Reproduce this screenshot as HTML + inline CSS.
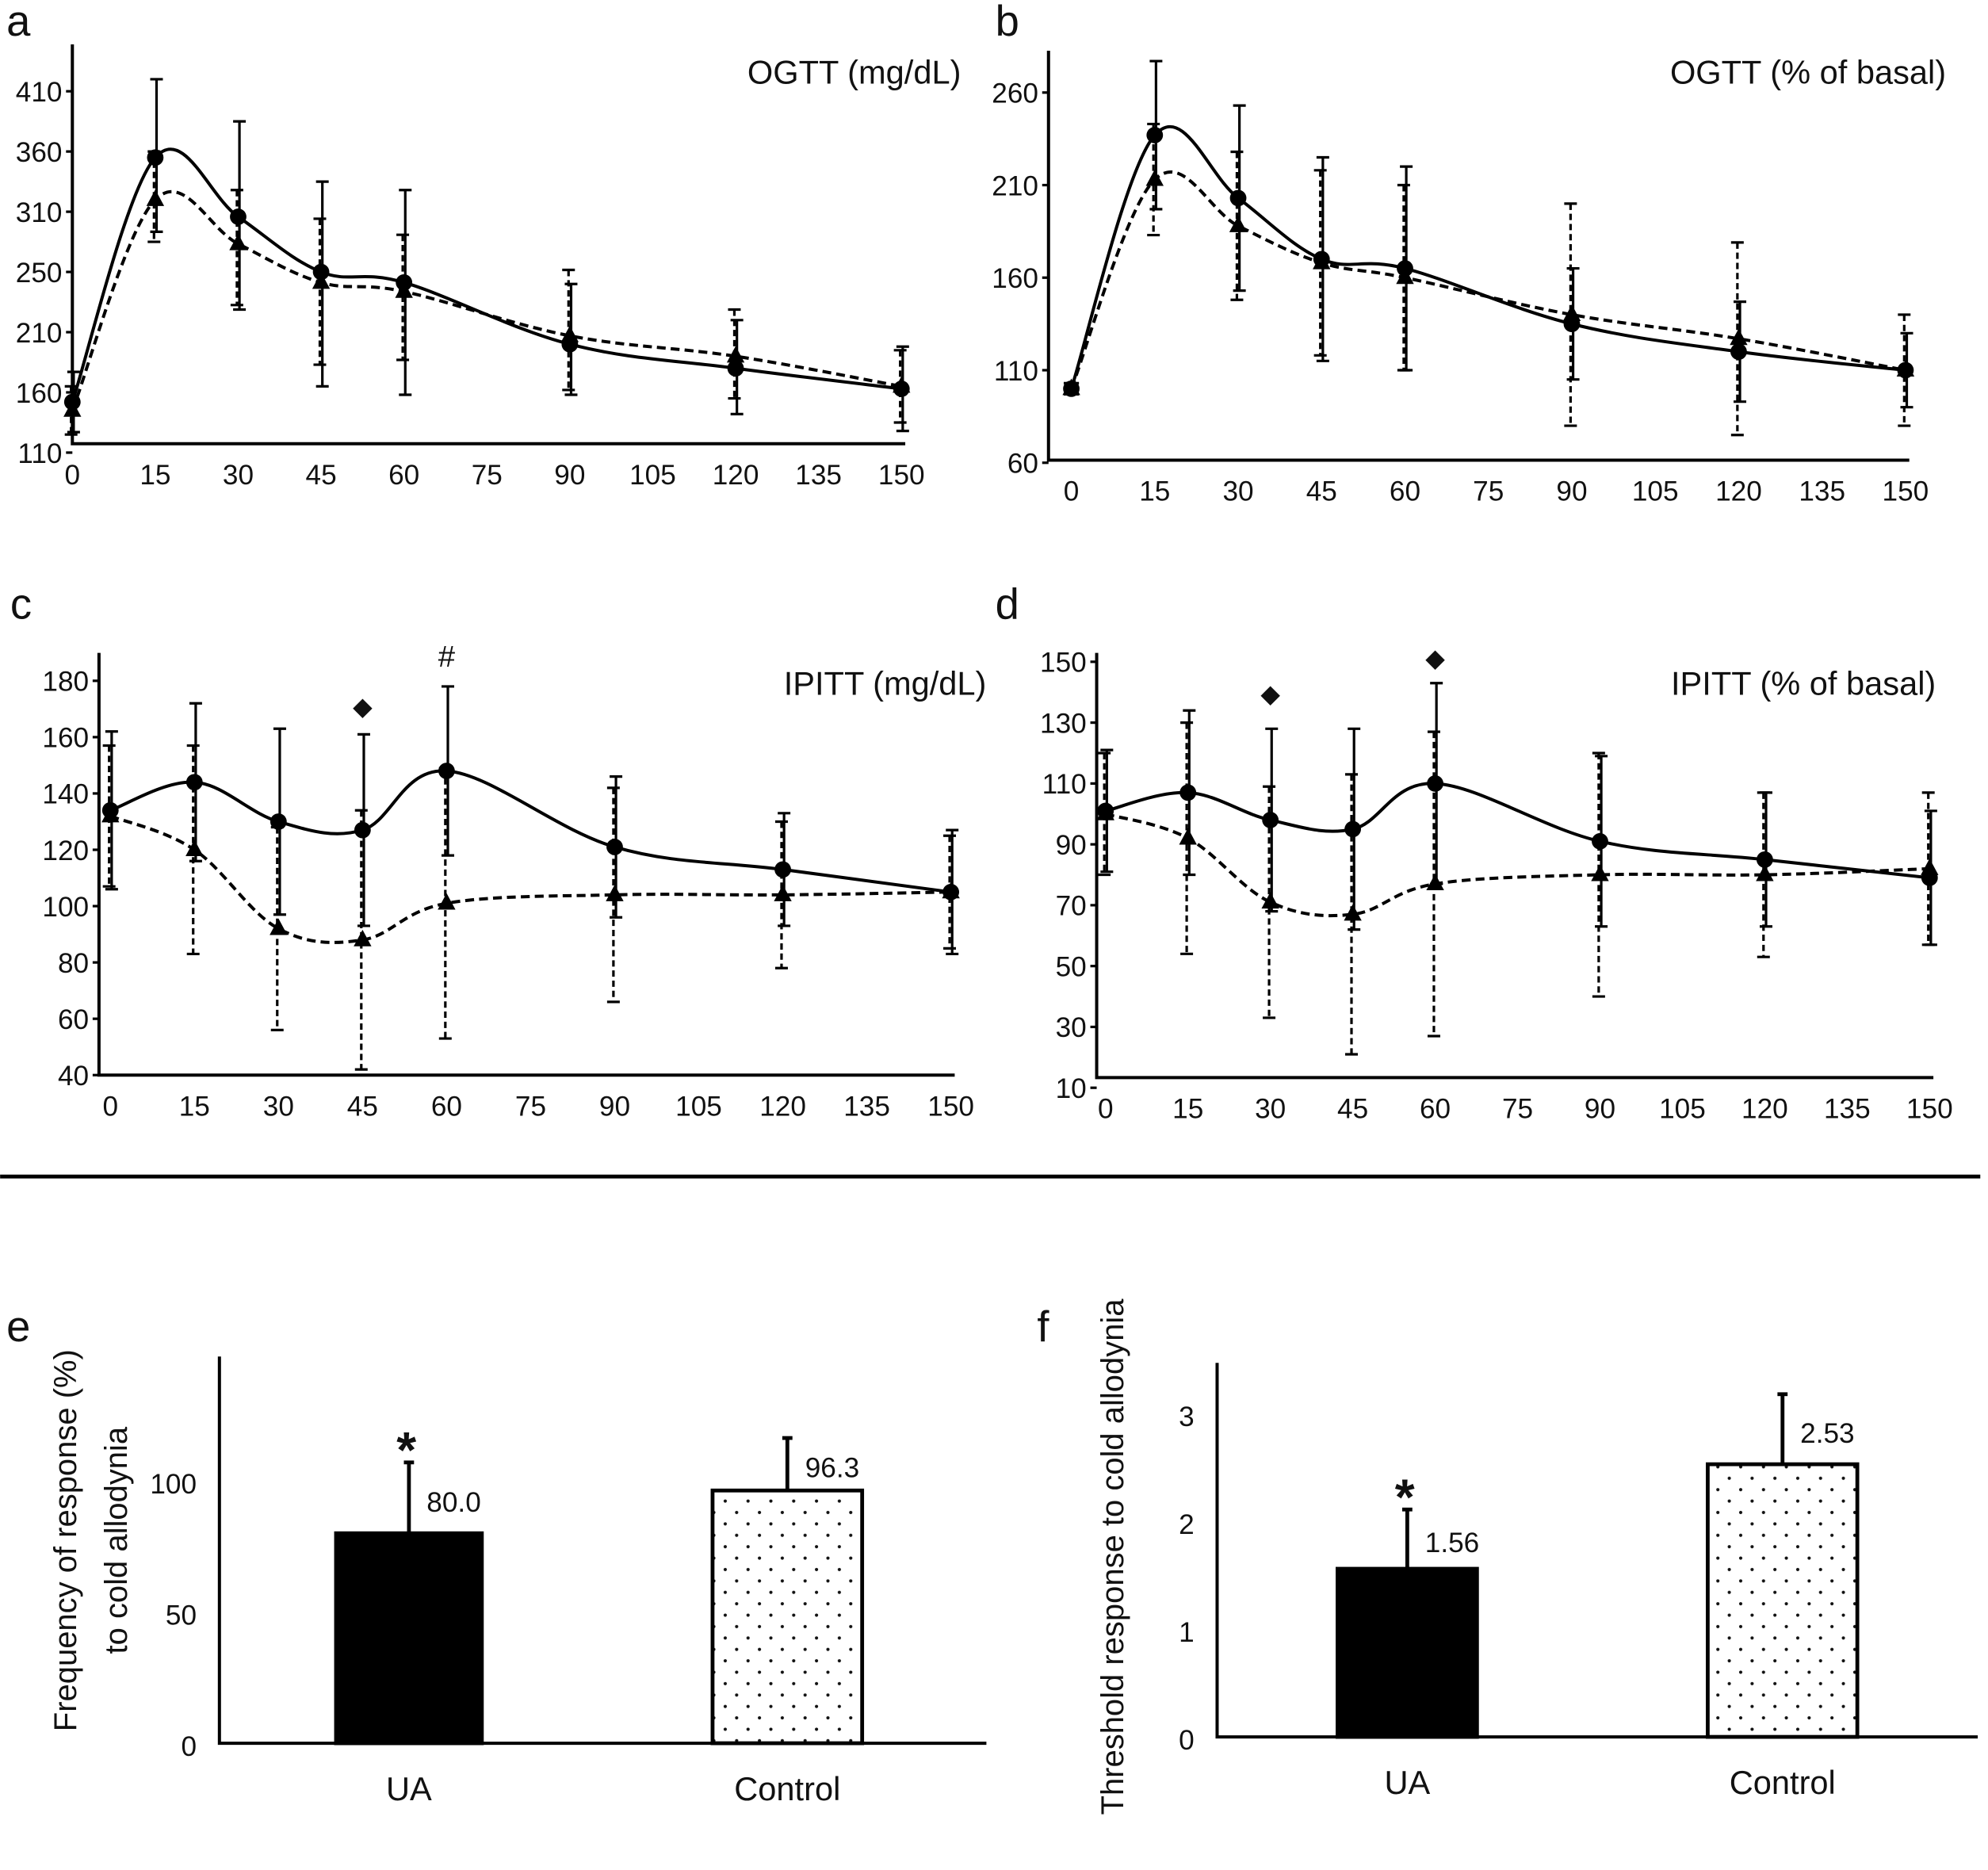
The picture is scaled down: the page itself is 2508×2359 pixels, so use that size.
<!DOCTYPE html>
<html><head><meta charset="utf-8"><style>
html,body{margin:0;padding:0;background:#fff}
svg{display:block}
text{font-family:"Liberation Sans",sans-serif;fill:#111}
</style></head><body>
<svg id="fig" width="2508" height="2359" viewBox="0 0 1568 1475" xmlns="http://www.w3.org/2000/svg">
<defs>
<pattern id="dots" width="18" height="18" patternUnits="userSpaceOnUse"><circle cx="5" cy="5" r="1.3" fill="#111"/><circle cx="14" cy="14" r="1.3" fill="#111"/></pattern>
</defs>
<line x1="0" y1="928" x2="1562" y2="928" stroke="#000" stroke-width="3"/>
</svg>
<script>
const NS="http://www.w3.org/2000/svg";
const svg=document.getElementById('fig');
function mk(tag,attrs,parent){const e=document.createElementNS(NS,tag);for(const k in attrs)e.setAttribute(k,attrs[k]);(parent||svg).appendChild(e);return e;}

// ---- data ----
const times=[0,15,30,45,60,90,120,150];
const xTicks=[0,15,30,45,60,75,90,105,120,135,150];
const aTicks=[110,160,210,250,310,360,410];
const aSolid=[152,355,305,250,243,200,180,163];
const aSolidErr=[25,65,80,85,85,42,38,35];
const aDash=[145,320,278,243,237,207,190,165];
const aDashErr=[20,40,50,60,50,45,35,30];
const bTicks=[60,110,160,210,260];
const bSolid=[100,237,203,170,165,135,120,110];
const bSolidErr=[3,40,50,55,55,30,27,20];
const bDash=[100,213,188,168,160,140,127,110];
const bDashErr=[3,30,40,50,50,60,52,30];
const cTicks=[40,60,80,100,120,140,160,180];
const cSolid=[134,144,130,127,148,121,113,105];
const cSolidErr=[28,28,33,34,30,25,20,22];
const cDash=[132,120,92,88,101,104,104,105];
const cDashErr=[25,37,36,46,48,38,26,20];
const dTicks=[10,30,50,70,90,110,130,150];
const dSolid=[101,107,98,95,110,91,85,79];
const dSolidErr=[20,27,30,33,33,28,22,22];
const dDash=[100,92,71,67,77,80,80,82];
const dDashErr=[20,38,38,46,50,40,27,25];
const barCats=['UA','Control'];
const eVals=[80.0,96.3];
const eErr=[27,20];
const eLabels=['80.0','96.3'];
const eTicks=[0,50,100];
const fVals=[1.56,2.53];
const fErr=[0.55,0.65];
const fLabels=['1.56','2.53'];
const fTicks=[0,1,2,3];

function smooth(pts){
  let d=`M${pts[0][0]},${pts[0][1]}`;
  for(let i=0;i<pts.length-1;i++){
    const p0=pts[i-1]||pts[i],p1=pts[i],p2=pts[i+1],p3=pts[i+2]||p2;
    const t=0.35;
    const c1=[p1[0]+(p2[0]-p0[0])*t/2, p1[1]+(p2[1]-p0[1])*t/2];
    const c2=[p2[0]-(p3[0]-p1[0])*t/2, p2[1]-(p3[1]-p1[1])*t/2];
    d+=` C${c1[0]},${c1[1]} ${c2[0]},${c2[1]} ${p2[0]},${p2[1]}`;
  }
  return d;
}

function linePanel(o){
  const g=mk('g',{});
  
  
  const X=t=>o.x0+(t-0)/150*(o.x1-o.x0);
  const Y=v=>o.yb+(v-o.vmin)/(o.vmax-o.vmin)*(o.yt-o.yb);
  const ax=mk('path',{d:`M${o.ax},${o.atop} V${o.abot} H${o.x1+3}`,stroke:'#000','stroke-width':2.5,fill:'none'},g);
  
  o.yticks.forEach((v,i)=>{
    const y=o.tickY?o.tickY(i):Y(v);
    mk('line',{x1:o.ax-5,y1:y,x2:o.ax,y2:y,stroke:'#000','stroke-width':2},g);
    const t=mk('text',{x:o.ax-8,y:y+8,'text-anchor':'end','font-size':22},g);t.textContent=v;
    
  });
  xTicks.forEach(v=>{
    const t=mk('text',{x:X(v),y:o.abot+32,'text-anchor':'middle','font-size':22},g);t.textContent=v;
    
  });
  const yv=o.tickY?(v=>{
    const tk=o.yticks;for(let i=0;i<tk.length-1;i++){if(v<=tk[i+1]||i==tk.length-2){return o.tickY(i)+(v-tk[i])/(tk[i+1]-tk[i])*(o.tickY(i+1)-o.tickY(i));}}
  }):Y;
  [[o.dash,o.dashErr,'dashed'],[o.solid,o.solidErr,'solid']].forEach(([vals,err,kind])=>{
    times.forEach((t,i)=>{
      const x=X(t)+(kind=='dashed'?-1:1),yt=yv(vals[i]+err[i]),yb=yv(vals[i]-err[i]);
      const l=mk('line',{x1:x,y1:yt,x2:x,y2:yb,stroke:'#000','stroke-width':2,'stroke-dasharray':kind=='dashed'?'5,3':'none'},g);
      
      mk('line',{x1:x-5,y1:yt,x2:x+5,y2:yt,stroke:'#000','stroke-width':2},g);
      mk('line',{x1:x-5,y1:yb,x2:x+5,y2:yb,stroke:'#000','stroke-width':2},g);
    });
    const pts=times.map((t,i)=>[X(t),yv(vals[i])]);
    const p=mk('path',{d:smooth(pts),fill:'none',stroke:'#000','stroke-width':2.5,'stroke-dasharray':kind=='dashed'?'7,4':'none'},g);
    
    pts.forEach(([x,y])=>{
      let m;
      if(kind=='solid')m=mk('circle',{cx:x,cy:y,r:6.5,fill:'#000'},g);
      else m=mk('path',{d:`M${x},${y-8} L${x+7},${y+5} L${x-7},${y+5}Z`,fill:'#000'},g);
      
    });
  });
  const lt=mk('text',{x:o.lx,y:o.ly,'font-size':34},g);lt.textContent=o.letter;
  
  const tt=mk('text',{x:o.tx,y:o.ty,'text-anchor':'end','font-size':26},g);tt.textContent=o.title;
  
  (o.marks||[]).forEach(([t,sym,y])=>{
    const s=mk('text',{x:X(t),y:y,'text-anchor':'middle','font-size':sym=='#'?24:20},g);s.textContent=sym;
    
  });
}

linePanel({name:'panel-a',letter:'a',lx:5,ly:28,title:'OGTT (mg/dL)',tx:758,ty:66,x0:57,x1:711,ax:57,atop:35,abot:350,
  yticks:aTicks,tickY:i=>357-i*47.5,solid:aSolid,solidErr:aSolidErr,dash:aDash,dashErr:aDashErr});
linePanel({name:'panel-b',letter:'b',lx:785,ly:28,title:'OGTT (% of basal)',tx:1535,ty:66,x0:845,x1:1503,ax:827,atop:40,abot:363,
  yticks:bTicks,vmin:60,vmax:260,yb:365,yt:73,solid:bSolid,solidErr:bSolidErr,dash:bDash,dashErr:bDashErr});
linePanel({name:'panel-c',letter:'c',lx:8,ly:488,title:'IPITT (mg/dL)',tx:778,ty:548,x0:87,x1:750,ax:78,atop:515,abot:848,
  yticks:cTicks,vmin:40,vmax:180,yb:848,yt:537,solid:cSolid,solidErr:cSolidErr,dash:cDash,dashErr:cDashErr,
  marks:[[45,'◆',564],[60,'#',526]]});
linePanel({name:'panel-d',letter:'d',lx:785,ly:488,title:'IPITT (% of basal)',tx:1527,ty:548,x0:872,x1:1522,ax:865,atop:515,abot:850,
  yticks:dTicks,vmin:10,vmax:150,yb:858,yt:522,solid:dSolid,solidErr:dSolidErr,dash:dDash,dashErr:dDashErr,
  marks:[[30,'◆',554],[60,'◆',526]]});

function barPanel(o){
  const g=mk('g',{});
  
  
  const Y=v=>o.yb+(v-o.vmin)/(o.vmax-o.vmin)*(o.yt-o.yb);
  const ax=mk('path',{d:`M${o.ax},${o.atop} V${o.yb} H${o.xend}`,stroke:'#000','stroke-width':2.5,fill:'none'},g);
  
  o.ticks.forEach(v=>{
    const t=mk('text',{x:o.ax-18,y:Y(v)+10,'text-anchor':'end','font-size':22},g);t.textContent=v;
    
  });
  barCats.forEach((c,i)=>{
    const [bx0,bx1]=o.barX[i];
    const top=Y(o.vals[i]),et=Y(o.vals[i]+o.err[i]);
    const cx=(bx0+bx1)/2;
    const el=mk('line',{x1:cx,y1:et,x2:cx,y2:top,stroke:'#000','stroke-width':3},g);
    
    mk('line',{x1:cx-4,y1:et,x2:cx+4,y2:et,stroke:'#000','stroke-width':3},g);
    const r=mk('rect',{x:bx0,y:top,width:bx1-bx0,height:o.yb-top,fill:i==0?'#000':'url(#dots)',stroke:'#000','stroke-width':3},g);
    
    const vt=mk('text',{x:cx+14,y:top-(top-et)*0.45+8,'font-size':22},g);vt.textContent=o.labels[i];
    
    const xl=mk('text',{x:cx,y:o.yb+45,'text-anchor':'middle','font-size':26},g);xl.textContent=c;
    
    if(i==0){const s=mk('text',{x:cx-2,y:et+4,'text-anchor':'middle','font-size':40,'font-weight':'bold'},g);s.textContent='*';
      }
  });
  const lt=mk('text',{x:o.lx,y:o.ly,'font-size':34},g);lt.textContent=o.letter;
  
  o.ylab.forEach(([txt,x])=>{
    const t=mk('text',{x:0,y:0,'text-anchor':'middle','font-size':25,transform:`translate(${x},${o.ylabY}) rotate(-90)`},g);t.textContent=txt;
    
  });
}
barPanel({name:'panel-e',letter:'e',lx:5,ly:1058,ax:173,atop:1070,yb:1375,xend:778,vmin:0,vmax:100,yt:1168,ticks:eTicks,
  barX:[[265,380],[562,680]],vals:eVals,err:eErr,labels:eLabels,ylabY:1215,
  ylab:[['Frequency of response (%)',60],['to cold allodynia',100]]});
barPanel({name:'panel-f',letter:'f',lx:818,ly:1058,ax:960,atop:1075,yb:1370,xend:1560,vmin:0,vmax:3,yt:1115,ticks:fTicks,
  barX:[[1055,1165],[1347,1465]],vals:fVals,err:fErr,labels:fLabels,ylabY:1228,
  ylab:[['Threshold response to cold allodynia',886]]});
</script>
</body></html>
